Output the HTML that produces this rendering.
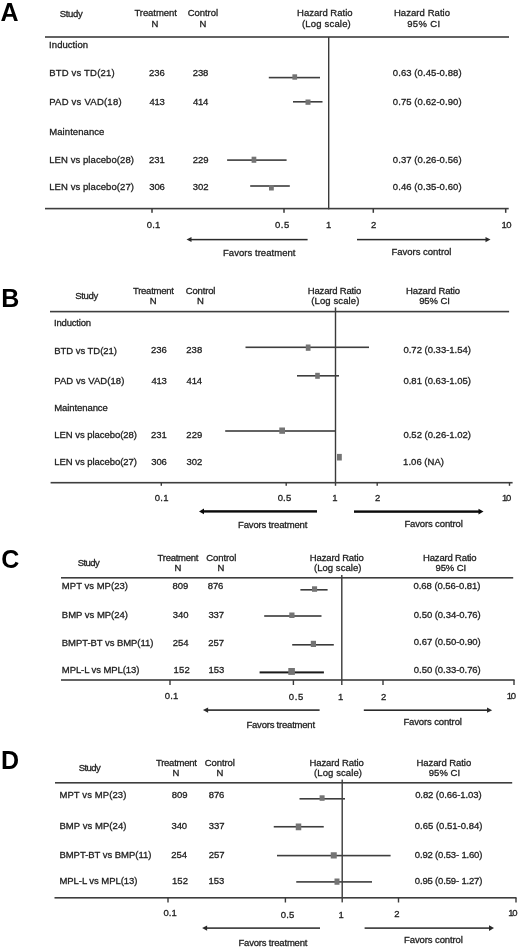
<!DOCTYPE html>
<html><head><meta charset="utf-8"><title>Forest plots</title>
<style>
html,body{margin:0;padding:0;background:#fff;}
body{width:520px;height:951px;overflow:hidden;}
svg{display:block;font-family:"Liberation Sans",sans-serif;filter:grayscale(1);}
</style></head><body>
<svg width="520" height="951" viewBox="0 0 520 951">
<rect x="0" y="0" width="520" height="951" fill="#fff"/>
<text x="0.58" y="20.50" font-size="25.00" font-weight="bold" fill="#000">A</text>
<text x="59.77" y="17.00" font-size="9.50" fill="#1e1e1e" stroke="#1e1e1e" stroke-width="0.30" textLength="23.05" lengthAdjust="spacing">Study</text>
<text x="134.39" y="16.00" font-size="9.50" fill="#1e1e1e" stroke="#1e1e1e" stroke-width="0.30" textLength="42.48" lengthAdjust="spacing">Treatment</text>
<text x="151.42" y="27.00" font-size="9.50" fill="#1e1e1e" stroke="#1e1e1e" stroke-width="0.30">N</text>
<text x="187.72" y="16.00" font-size="9.50" fill="#1e1e1e" stroke="#1e1e1e" stroke-width="0.30" textLength="30.32" lengthAdjust="spacing">Control</text>
<text x="199.42" y="27.00" font-size="9.50" fill="#1e1e1e" stroke="#1e1e1e" stroke-width="0.30">N</text>
<text x="297.02" y="16.00" font-size="9.50" fill="#1e1e1e" stroke="#1e1e1e" stroke-width="0.30" textLength="55.58" lengthAdjust="spacing">Hazard Ratio</text>
<text x="302.01" y="27.00" font-size="9.50" fill="#1e1e1e" stroke="#1e1e1e" stroke-width="0.30" textLength="48.78" lengthAdjust="spacing">(Log scale)</text>
<text x="393.92" y="16.00" font-size="9.50" fill="#1e1e1e" stroke="#1e1e1e" stroke-width="0.30" textLength="56.18" lengthAdjust="spacing">Hazard Ratio</text>
<text x="407.25" y="27.00" font-size="9.50" fill="#1e1e1e" stroke="#1e1e1e" stroke-width="0.30" textLength="32.82" lengthAdjust="spacing">95% CI</text>
<rect x="45.00" y="36.20" width="464.00" height="1.60" fill="#3e3e3e"/>
<rect x="328.00" y="37.00" width="1.40" height="172.30" fill="#3a3a3a"/>
<text x="49.12" y="48.00" font-size="9.50" fill="#1e1e1e" stroke="#1e1e1e" stroke-width="0.30" textLength="38.99" lengthAdjust="spacing">Induction</text>
<text x="49.22" y="135.00" font-size="9.50" fill="#1e1e1e" stroke="#1e1e1e" stroke-width="0.30" textLength="55.20" lengthAdjust="spacing">Maintenance</text>
<text x="49.22" y="76.00" font-size="9.50" fill="#1e1e1e" stroke="#1e1e1e" stroke-width="0.30" textLength="65.37" lengthAdjust="spacing">BTD vs TD(21)</text>
<text x="149.12" y="76.00" font-size="9.50" fill="#1e1e1e" stroke="#1e1e1e" stroke-width="0.30" textLength="15.70" lengthAdjust="spacing">236</text>
<text x="192.72" y="76.00" font-size="9.50" fill="#1e1e1e" stroke="#1e1e1e" stroke-width="0.30" textLength="15.69" lengthAdjust="spacing">238</text>
<text x="392.83" y="76.00" font-size="9.50" fill="#1e1e1e" stroke="#1e1e1e" stroke-width="0.30" textLength="68.76" lengthAdjust="spacing">0.63 (0.45-0.88)</text>
<rect x="268.80" y="76.80" width="51.20" height="1.60" fill="#3e3e3e"/>
<rect x="292.40" y="74.30" width="4.70" height="5.40" fill="#747474"/>
<text x="49.22" y="105.00" font-size="9.50" fill="#1e1e1e" stroke="#1e1e1e" stroke-width="0.30" textLength="72.37" lengthAdjust="spacing">PAD vs VAD(18)</text>
<text x="149.38" y="105.00" font-size="9.50" fill="#1e1e1e" stroke="#1e1e1e" stroke-width="0.30" textLength="15.44" lengthAdjust="spacing">413</text>
<text x="192.98" y="105.00" font-size="9.50" fill="#1e1e1e" stroke="#1e1e1e" stroke-width="0.30" textLength="15.30" lengthAdjust="spacing">414</text>
<text x="392.83" y="105.00" font-size="9.50" fill="#1e1e1e" stroke="#1e1e1e" stroke-width="0.30" textLength="68.76" lengthAdjust="spacing">0.75 (0.62-0.90)</text>
<rect x="293.00" y="101.00" width="29.50" height="1.60" fill="#3e3e3e"/>
<rect x="305.50" y="99.50" width="5.00" height="5.30" fill="#747474"/>
<text x="49.22" y="163.00" font-size="9.50" fill="#1e1e1e" stroke="#1e1e1e" stroke-width="0.30" textLength="84.77" lengthAdjust="spacing">LEN vs placebo(28)</text>
<text x="149.12" y="163.00" font-size="9.50" fill="#1e1e1e" stroke="#1e1e1e" stroke-width="0.30" textLength="15.74" lengthAdjust="spacing">231</text>
<text x="192.72" y="163.00" font-size="9.50" fill="#1e1e1e" stroke="#1e1e1e" stroke-width="0.30" textLength="15.73" lengthAdjust="spacing">229</text>
<text x="392.83" y="163.00" font-size="9.50" fill="#1e1e1e" stroke="#1e1e1e" stroke-width="0.30" textLength="68.76" lengthAdjust="spacing">0.37 (0.26-0.56)</text>
<rect x="227.10" y="159.30" width="59.50" height="1.60" fill="#3e3e3e"/>
<rect x="251.60" y="156.70" width="4.70" height="6.10" fill="#747474"/>
<text x="49.22" y="190.00" font-size="9.50" fill="#1e1e1e" stroke="#1e1e1e" stroke-width="0.30" textLength="84.77" lengthAdjust="spacing">LEN vs placebo(27)</text>
<text x="149.24" y="190.00" font-size="9.50" fill="#1e1e1e" stroke="#1e1e1e" stroke-width="0.30" textLength="15.58" lengthAdjust="spacing">306</text>
<text x="192.84" y="190.00" font-size="9.50" fill="#1e1e1e" stroke="#1e1e1e" stroke-width="0.30" textLength="15.64" lengthAdjust="spacing">302</text>
<text x="392.83" y="190.00" font-size="9.50" fill="#1e1e1e" stroke="#1e1e1e" stroke-width="0.30" textLength="68.76" lengthAdjust="spacing">0.46 (0.35-0.60)</text>
<rect x="250.20" y="185.20" width="39.60" height="1.60" fill="#3e3e3e"/>
<rect x="269.00" y="185.00" width="4.80" height="5.50" fill="#747474"/>
<rect x="45.00" y="207.80" width="463.70" height="1.60" fill="#3e3e3e"/>
<rect x="151.25" y="208.60" width="1.50" height="4.20" fill="#3a3a3a"/>
<rect x="283.25" y="208.60" width="1.50" height="4.20" fill="#3a3a3a"/>
<rect x="372.55" y="208.60" width="1.50" height="4.20" fill="#3a3a3a"/>
<rect x="504.95" y="208.60" width="1.50" height="4.20" fill="#3a3a3a"/>
<text x="146.83" y="228.00" font-size="9.50" fill="#1e1e1e" stroke="#1e1e1e" stroke-width="0.30" textLength="13.43" lengthAdjust="spacing">0.1</text>
<text x="275.03" y="228.00" font-size="9.50" fill="#1e1e1e" stroke="#1e1e1e" stroke-width="0.30" textLength="14.17" lengthAdjust="spacing">0.5</text>
<text x="326.08" y="228.00" font-size="9.50" fill="#1e1e1e" stroke="#1e1e1e" stroke-width="0.30">1</text>
<text x="371.12" y="228.00" font-size="9.50" fill="#1e1e1e" stroke="#1e1e1e" stroke-width="0.30">2</text>
<text x="501.48" y="228.00" font-size="9.50" fill="#1e1e1e" stroke="#1e1e1e" stroke-width="0.30" textLength="10.09" lengthAdjust="spacing">10</text>
<rect x="191.00" y="238.85" width="116.60" height="1.50" fill="#2a2a2a"/>
<polygon points="186.50,239.60 191.50,237.10 191.50,242.10" fill="#2a2a2a"/>
<rect x="357.00" y="238.85" width="129.00" height="1.50" fill="#2a2a2a"/>
<polygon points="490.50,239.60 485.50,237.00 485.50,242.20" fill="#2a2a2a"/>
<text x="223.02" y="256.00" font-size="9.50" fill="#1e1e1e" stroke="#1e1e1e" stroke-width="0.30" textLength="72.45" lengthAdjust="spacing">Favors treatment</text>
<text x="391.42" y="255.00" font-size="9.50" fill="#1e1e1e" stroke="#1e1e1e" stroke-width="0.30" textLength="60.01" lengthAdjust="spacing">Favors control</text>
<text x="1.13" y="306.80" font-size="25.00" font-weight="bold" fill="#000">B</text>
<text x="75.37" y="299.00" font-size="9.50" fill="#1e1e1e" stroke="#1e1e1e" stroke-width="0.30" textLength="22.85" lengthAdjust="spacing">Study</text>
<text x="132.99" y="294.00" font-size="9.50" fill="#1e1e1e" stroke="#1e1e1e" stroke-width="0.30" textLength="40.88" lengthAdjust="spacing">Treatment</text>
<text x="149.82" y="304.00" font-size="9.50" fill="#1e1e1e" stroke="#1e1e1e" stroke-width="0.30">N</text>
<text x="185.72" y="294.00" font-size="9.50" fill="#1e1e1e" stroke="#1e1e1e" stroke-width="0.30" textLength="29.72" lengthAdjust="spacing">Control</text>
<text x="197.02" y="304.00" font-size="9.50" fill="#1e1e1e" stroke="#1e1e1e" stroke-width="0.30">N</text>
<text x="307.82" y="294.00" font-size="9.50" fill="#1e1e1e" stroke="#1e1e1e" stroke-width="0.30" textLength="53.38" lengthAdjust="spacing">Hazard Ratio</text>
<text x="311.21" y="304.00" font-size="9.50" fill="#1e1e1e" stroke="#1e1e1e" stroke-width="0.30" textLength="48.18" lengthAdjust="spacing">(Log scale)</text>
<text x="406.02" y="294.00" font-size="9.50" fill="#1e1e1e" stroke="#1e1e1e" stroke-width="0.30" textLength="54.08" lengthAdjust="spacing">Hazard Ratio</text>
<text x="419.15" y="304.00" font-size="9.50" fill="#1e1e1e" stroke="#1e1e1e" stroke-width="0.30" textLength="30.72" lengthAdjust="spacing">95% CI</text>
<rect x="50.00" y="310.80" width="459.10" height="1.60" fill="#3e3e3e"/>
<rect x="334.80" y="307.40" width="1.40" height="178.40" fill="#3a3a3a"/>
<text x="54.12" y="326.00" font-size="9.50" fill="#1e1e1e" stroke="#1e1e1e" stroke-width="0.30" textLength="36.89" lengthAdjust="spacing">Induction</text>
<text x="54.22" y="411.00" font-size="9.50" fill="#1e1e1e" stroke="#1e1e1e" stroke-width="0.30" textLength="53.60" lengthAdjust="spacing">Maintenance</text>
<text x="54.22" y="354.00" font-size="9.50" fill="#1e1e1e" stroke="#1e1e1e" stroke-width="0.30" textLength="62.77" lengthAdjust="spacing">BTD vs TD(21)</text>
<text x="151.12" y="353.00" font-size="9.50" fill="#1e1e1e" stroke="#1e1e1e" stroke-width="0.30" textLength="15.70" lengthAdjust="spacing">236</text>
<text x="186.32" y="353.00" font-size="9.50" fill="#1e1e1e" stroke="#1e1e1e" stroke-width="0.30" textLength="15.89" lengthAdjust="spacing">238</text>
<text x="403.43" y="353.00" font-size="9.50" fill="#1e1e1e" stroke="#1e1e1e" stroke-width="0.30" textLength="67.56" lengthAdjust="spacing">0.72 (0.33-1.54)</text>
<rect x="245.50" y="346.50" width="123.50" height="1.60" fill="#3e3e3e"/>
<rect x="305.80" y="344.50" width="4.70" height="6.30" fill="#747474"/>
<text x="54.22" y="384.00" font-size="9.50" fill="#1e1e1e" stroke="#1e1e1e" stroke-width="0.30" textLength="70.17" lengthAdjust="spacing">PAD vs VAD(18)</text>
<text x="151.38" y="384.00" font-size="9.50" fill="#1e1e1e" stroke="#1e1e1e" stroke-width="0.30" textLength="15.44" lengthAdjust="spacing">413</text>
<text x="186.58" y="384.00" font-size="9.50" fill="#1e1e1e" stroke="#1e1e1e" stroke-width="0.30" textLength="15.50" lengthAdjust="spacing">414</text>
<text x="403.43" y="384.00" font-size="9.50" fill="#1e1e1e" stroke="#1e1e1e" stroke-width="0.30" textLength="67.56" lengthAdjust="spacing">0.81 (0.63-1.05)</text>
<rect x="297.00" y="375.00" width="42.00" height="1.60" fill="#3e3e3e"/>
<rect x="315.20" y="372.80" width="4.60" height="6.00" fill="#747474"/>
<text x="54.22" y="438.00" font-size="9.50" fill="#1e1e1e" stroke="#1e1e1e" stroke-width="0.30" textLength="82.77" lengthAdjust="spacing">LEN vs placebo(28)</text>
<text x="151.12" y="438.00" font-size="9.50" fill="#1e1e1e" stroke="#1e1e1e" stroke-width="0.30" textLength="15.74" lengthAdjust="spacing">231</text>
<text x="186.32" y="438.00" font-size="9.50" fill="#1e1e1e" stroke="#1e1e1e" stroke-width="0.30" textLength="15.93" lengthAdjust="spacing">229</text>
<text x="403.43" y="438.00" font-size="9.50" fill="#1e1e1e" stroke="#1e1e1e" stroke-width="0.30" textLength="67.56" lengthAdjust="spacing">0.52 (0.26-1.02)</text>
<rect x="225.20" y="430.20" width="110.00" height="1.60" fill="#3e3e3e"/>
<rect x="279.30" y="427.50" width="5.70" height="6.30" fill="#747474"/>
<text x="54.22" y="465.00" font-size="9.50" fill="#1e1e1e" stroke="#1e1e1e" stroke-width="0.30" textLength="82.77" lengthAdjust="spacing">LEN vs placebo(27)</text>
<text x="151.24" y="465.00" font-size="9.50" fill="#1e1e1e" stroke="#1e1e1e" stroke-width="0.30" textLength="15.58" lengthAdjust="spacing">306</text>
<text x="186.44" y="465.00" font-size="9.50" fill="#1e1e1e" stroke="#1e1e1e" stroke-width="0.30" textLength="15.84" lengthAdjust="spacing">302</text>
<text x="403.08" y="465.00" font-size="9.50" fill="#1e1e1e" stroke="#1e1e1e" stroke-width="0.30" textLength="40.91" lengthAdjust="spacing">1.06 (NA)</text>
<rect x="337.00" y="453.90" width="4.80" height="6.60" fill="#747474"/>
<rect x="50.60" y="481.90" width="462.00" height="1.60" fill="#3e3e3e"/>
<rect x="160.60" y="482.70" width="1.40" height="3.10" fill="#3a3a3a"/>
<rect x="285.50" y="482.70" width="1.40" height="3.10" fill="#3a3a3a"/>
<rect x="376.50" y="482.70" width="1.40" height="3.10" fill="#3a3a3a"/>
<rect x="508.80" y="482.70" width="1.40" height="3.10" fill="#3a3a3a"/>
<text x="154.83" y="501.00" font-size="9.50" fill="#1e1e1e" stroke="#1e1e1e" stroke-width="0.30" textLength="13.63" lengthAdjust="spacing">0.1</text>
<text x="277.63" y="501.00" font-size="9.50" fill="#1e1e1e" stroke="#1e1e1e" stroke-width="0.30" textLength="13.57" lengthAdjust="spacing">0.5</text>
<text x="332.18" y="501.00" font-size="9.50" fill="#1e1e1e" stroke="#1e1e1e" stroke-width="0.30">1</text>
<text x="375.12" y="501.00" font-size="9.50" fill="#1e1e1e" stroke="#1e1e1e" stroke-width="0.30">2</text>
<text x="501.98" y="501.00" font-size="9.50" fill="#1e1e1e" stroke="#1e1e1e" stroke-width="0.30" textLength="9.39" lengthAdjust="spacing">10</text>
<rect x="203.50" y="510.20" width="113.50" height="2.40" fill="#0a0a0a"/>
<polygon points="199.00,511.40 204.00,508.50 204.00,514.30" fill="#0a0a0a"/>
<rect x="354.00" y="510.40" width="125.00" height="2.40" fill="#0a0a0a"/>
<polygon points="483.50,511.60 478.50,508.70 478.50,514.50" fill="#0a0a0a"/>
<text x="238.12" y="528.00" font-size="9.50" fill="#1e1e1e" stroke="#1e1e1e" stroke-width="0.30" textLength="69.25" lengthAdjust="spacing">Favors treatment</text>
<text x="404.42" y="527.00" font-size="9.50" fill="#1e1e1e" stroke="#1e1e1e" stroke-width="0.30" textLength="58.41" lengthAdjust="spacing">Favors control</text>
<text x="1.17" y="567.60" font-size="25.00" font-weight="bold" fill="#000">C</text>
<text x="77.77" y="566.00" font-size="9.50" fill="#1e1e1e" stroke="#1e1e1e" stroke-width="0.30" textLength="22.05" lengthAdjust="spacing">Study</text>
<text x="157.59" y="561.00" font-size="9.50" fill="#1e1e1e" stroke="#1e1e1e" stroke-width="0.30" textLength="40.88" lengthAdjust="spacing">Treatment</text>
<text x="174.42" y="571.00" font-size="9.50" fill="#1e1e1e" stroke="#1e1e1e" stroke-width="0.30">N</text>
<text x="206.32" y="561.00" font-size="9.50" fill="#1e1e1e" stroke="#1e1e1e" stroke-width="0.30" textLength="30.12" lengthAdjust="spacing">Control</text>
<text x="217.42" y="571.00" font-size="9.50" fill="#1e1e1e" stroke="#1e1e1e" stroke-width="0.30">N</text>
<text x="309.82" y="561.00" font-size="9.50" fill="#1e1e1e" stroke="#1e1e1e" stroke-width="0.30" textLength="53.98" lengthAdjust="spacing">Hazard Ratio</text>
<text x="314.01" y="571.00" font-size="9.50" fill="#1e1e1e" stroke="#1e1e1e" stroke-width="0.30" textLength="47.38" lengthAdjust="spacing">(Log scale)</text>
<text x="423.02" y="561.00" font-size="9.50" fill="#1e1e1e" stroke="#1e1e1e" stroke-width="0.30" textLength="53.58" lengthAdjust="spacing">Hazard Ratio</text>
<text x="435.45" y="571.00" font-size="9.50" fill="#1e1e1e" stroke="#1e1e1e" stroke-width="0.30" textLength="30.72" lengthAdjust="spacing">95% CI</text>
<rect x="61.00" y="577.00" width="452.20" height="1.60" fill="#3e3e3e"/>
<rect x="341.10" y="575.00" width="1.40" height="110.00" fill="#3a3a3a"/>
<text x="61.82" y="589.00" font-size="9.50" fill="#1e1e1e" stroke="#1e1e1e" stroke-width="0.30" textLength="66.17" lengthAdjust="spacing">MPT vs MP(23)</text>
<text x="172.39" y="589.00" font-size="9.50" fill="#1e1e1e" stroke="#1e1e1e" stroke-width="0.30" textLength="15.86" lengthAdjust="spacing">809</text>
<text x="207.79" y="589.00" font-size="9.50" fill="#1e1e1e" stroke="#1e1e1e" stroke-width="0.30" textLength="15.63" lengthAdjust="spacing">876</text>
<text x="413.53" y="589.00" font-size="9.50" fill="#1e1e1e" stroke="#1e1e1e" stroke-width="0.30" textLength="66.86" lengthAdjust="spacing">0.68 (0.56-0.81)</text>
<rect x="300.40" y="589.00" width="27.20" height="1.60" fill="#3a3a3a"/>
<rect x="312.00" y="586.30" width="5.10" height="5.50" fill="#747474"/>
<text x="61.82" y="618.00" font-size="9.50" fill="#1e1e1e" stroke="#1e1e1e" stroke-width="0.30" textLength="66.17" lengthAdjust="spacing">BMP vs MP(24)</text>
<text x="172.84" y="618.00" font-size="9.50" fill="#1e1e1e" stroke="#1e1e1e" stroke-width="0.30" textLength="15.73" lengthAdjust="spacing">340</text>
<text x="208.44" y="618.00" font-size="9.50" fill="#1e1e1e" stroke="#1e1e1e" stroke-width="0.30" textLength="15.64" lengthAdjust="spacing">337</text>
<text x="413.83" y="618.00" font-size="9.50" fill="#1e1e1e" stroke="#1e1e1e" stroke-width="0.30" textLength="66.96" lengthAdjust="spacing">0.50 (0.34-0.76)</text>
<rect x="264.20" y="615.20" width="57.30" height="1.60" fill="#3a3a3a"/>
<rect x="289.30" y="612.50" width="5.20" height="5.50" fill="#747474"/>
<text x="61.82" y="646.00" font-size="9.50" fill="#1e1e1e" stroke="#1e1e1e" stroke-width="0.30" textLength="91.57" lengthAdjust="spacing">BMPT-BT vs BMP(11)</text>
<text x="172.72" y="646.00" font-size="9.50" fill="#1e1e1e" stroke="#1e1e1e" stroke-width="0.30" textLength="15.76" lengthAdjust="spacing">254</text>
<text x="208.32" y="646.00" font-size="9.50" fill="#1e1e1e" stroke="#1e1e1e" stroke-width="0.30" textLength="15.76" lengthAdjust="spacing">257</text>
<text x="413.83" y="645.00" font-size="9.50" fill="#1e1e1e" stroke="#1e1e1e" stroke-width="0.30" textLength="66.96" lengthAdjust="spacing">0.67 (0.50-0.90)</text>
<rect x="292.20" y="644.00" width="41.60" height="1.60" fill="#3a3a3a"/>
<rect x="310.80" y="640.80" width="5.20" height="6.20" fill="#747474"/>
<text x="61.82" y="673.00" font-size="9.50" fill="#1e1e1e" stroke="#1e1e1e" stroke-width="0.30" textLength="77.57" lengthAdjust="spacing">MPL-L vs MPL(13)</text>
<text x="173.48" y="673.00" font-size="9.50" fill="#1e1e1e" stroke="#1e1e1e" stroke-width="0.30" textLength="16.20" lengthAdjust="spacing">152</text>
<text x="208.48" y="673.00" font-size="9.50" fill="#1e1e1e" stroke="#1e1e1e" stroke-width="0.30" textLength="15.94" lengthAdjust="spacing">153</text>
<text x="413.83" y="673.00" font-size="9.50" fill="#1e1e1e" stroke="#1e1e1e" stroke-width="0.30" textLength="66.96" lengthAdjust="spacing">0.50 (0.33-0.76)</text>
<rect x="259.60" y="671.40" width="64.30" height="2.00" fill="#1a1a1a"/>
<rect x="288.30" y="668.00" width="6.60" height="6.90" fill="#747474"/>
<rect x="61.00" y="679.20" width="453.60" height="1.60" fill="#3e3e3e"/>
<rect x="169.30" y="680.00" width="1.40" height="5.00" fill="#3a3a3a"/>
<rect x="292.70" y="680.00" width="1.40" height="5.00" fill="#3a3a3a"/>
<rect x="382.30" y="680.00" width="1.40" height="5.00" fill="#3a3a3a"/>
<rect x="513.30" y="680.00" width="1.40" height="5.00" fill="#3a3a3a"/>
<text x="164.83" y="699.00" font-size="9.50" fill="#1e1e1e" stroke="#1e1e1e" stroke-width="0.30" textLength="13.43" lengthAdjust="spacing">0.1</text>
<text x="288.83" y="700.00" font-size="9.50" fill="#1e1e1e" stroke="#1e1e1e" stroke-width="0.30" textLength="14.37" lengthAdjust="spacing">0.5</text>
<text x="337.88" y="700.00" font-size="9.50" fill="#1e1e1e" stroke="#1e1e1e" stroke-width="0.30">1</text>
<text x="381.12" y="700.00" font-size="9.50" fill="#1e1e1e" stroke="#1e1e1e" stroke-width="0.30">2</text>
<text x="506.68" y="699.00" font-size="9.50" fill="#1e1e1e" stroke="#1e1e1e" stroke-width="0.30" textLength="9.29" lengthAdjust="spacing">10</text>
<rect x="207.60" y="709.30" width="112.00" height="1.60" fill="#2a2a2a"/>
<polygon points="202.90,710.10 208.10,707.50 208.10,712.70" fill="#2a2a2a"/>
<rect x="363.80" y="709.40" width="123.70" height="1.60" fill="#2a2a2a"/>
<polygon points="492.20,710.20 487.00,707.60 487.00,712.80" fill="#2a2a2a"/>
<text x="246.42" y="728.00" font-size="9.50" fill="#1e1e1e" stroke="#1e1e1e" stroke-width="0.30" textLength="68.65" lengthAdjust="spacing">Favors treatment</text>
<text x="403.42" y="725.00" font-size="9.50" fill="#1e1e1e" stroke="#1e1e1e" stroke-width="0.30" textLength="58.51" lengthAdjust="spacing">Favors control</text>
<text x="0.93" y="769.00" font-size="25.00" font-weight="bold" fill="#000">D</text>
<text x="78.77" y="771.00" font-size="9.50" fill="#1e1e1e" stroke="#1e1e1e" stroke-width="0.30" textLength="22.05" lengthAdjust="spacing">Study</text>
<text x="155.99" y="766.00" font-size="9.50" fill="#1e1e1e" stroke="#1e1e1e" stroke-width="0.30" textLength="40.88" lengthAdjust="spacing">Treatment</text>
<text x="172.42" y="776.00" font-size="9.50" fill="#1e1e1e" stroke="#1e1e1e" stroke-width="0.30">N</text>
<text x="204.72" y="766.00" font-size="9.50" fill="#1e1e1e" stroke="#1e1e1e" stroke-width="0.30" textLength="30.12" lengthAdjust="spacing">Control</text>
<text x="216.42" y="776.00" font-size="9.50" fill="#1e1e1e" stroke="#1e1e1e" stroke-width="0.30">N</text>
<text x="309.42" y="766.00" font-size="9.50" fill="#1e1e1e" stroke="#1e1e1e" stroke-width="0.30" textLength="54.38" lengthAdjust="spacing">Hazard Ratio</text>
<text x="314.01" y="776.00" font-size="9.50" fill="#1e1e1e" stroke="#1e1e1e" stroke-width="0.30" textLength="47.98" lengthAdjust="spacing">(Log scale)</text>
<text x="416.42" y="766.00" font-size="9.50" fill="#1e1e1e" stroke="#1e1e1e" stroke-width="0.30" textLength="54.78" lengthAdjust="spacing">Hazard Ratio</text>
<text x="428.75" y="776.00" font-size="9.50" fill="#1e1e1e" stroke="#1e1e1e" stroke-width="0.30" textLength="31.32" lengthAdjust="spacing">95% CI</text>
<rect x="55.00" y="782.00" width="457.20" height="1.60" fill="#3e3e3e"/>
<rect x="341.50" y="779.60" width="1.40" height="122.80" fill="#3a3a3a"/>
<text x="59.42" y="798.00" font-size="9.50" fill="#1e1e1e" stroke="#1e1e1e" stroke-width="0.30" textLength="66.97" lengthAdjust="spacing">MPT vs MP(23)</text>
<text x="171.79" y="798.00" font-size="9.50" fill="#1e1e1e" stroke="#1e1e1e" stroke-width="0.30" textLength="15.86" lengthAdjust="spacing">809</text>
<text x="208.79" y="798.00" font-size="9.50" fill="#1e1e1e" stroke="#1e1e1e" stroke-width="0.30" textLength="15.63" lengthAdjust="spacing">876</text>
<text x="415.13" y="798.00" font-size="9.50" fill="#1e1e1e" stroke="#1e1e1e" stroke-width="0.30" textLength="66.46" lengthAdjust="spacing">0.82 (0.66-1.03)</text>
<rect x="299.50" y="798.00" width="45.50" height="1.60" fill="#3e3e3e"/>
<rect x="319.60" y="795.30" width="5.00" height="5.50" fill="#747474"/>
<text x="59.42" y="829.00" font-size="9.50" fill="#1e1e1e" stroke="#1e1e1e" stroke-width="0.30" textLength="66.97" lengthAdjust="spacing">BMP vs MP(24)</text>
<text x="171.44" y="829.00" font-size="9.50" fill="#1e1e1e" stroke="#1e1e1e" stroke-width="0.30" textLength="15.73" lengthAdjust="spacing">340</text>
<text x="208.84" y="829.00" font-size="9.50" fill="#1e1e1e" stroke="#1e1e1e" stroke-width="0.30" textLength="15.64" lengthAdjust="spacing">337</text>
<text x="414.83" y="829.00" font-size="9.50" fill="#1e1e1e" stroke="#1e1e1e" stroke-width="0.30" textLength="67.56" lengthAdjust="spacing">0.65 (0.51-0.84)</text>
<rect x="273.75" y="825.95" width="50.00" height="1.60" fill="#3e3e3e"/>
<rect x="295.75" y="823.50" width="5.50" height="6.75" fill="#747474"/>
<text x="59.42" y="858.00" font-size="9.50" fill="#1e1e1e" stroke="#1e1e1e" stroke-width="0.30" textLength="91.97" lengthAdjust="spacing">BMPT-BT vs BMP(11)</text>
<text x="171.32" y="858.00" font-size="9.50" fill="#1e1e1e" stroke="#1e1e1e" stroke-width="0.30" textLength="15.76" lengthAdjust="spacing">254</text>
<text x="208.72" y="858.00" font-size="9.50" fill="#1e1e1e" stroke="#1e1e1e" stroke-width="0.30" textLength="15.76" lengthAdjust="spacing">257</text>
<text x="414.83" y="858.00" font-size="9.50" fill="#1e1e1e" stroke="#1e1e1e" stroke-width="0.30" textLength="67.56" lengthAdjust="spacing">0.92 (0.53- 1.60)</text>
<rect x="277.00" y="854.80" width="113.60" height="1.60" fill="#3e3e3e"/>
<rect x="330.75" y="852.25" width="6.00" height="6.25" fill="#747474"/>
<text x="59.42" y="884.00" font-size="9.50" fill="#1e1e1e" stroke="#1e1e1e" stroke-width="0.30" textLength="77.97" lengthAdjust="spacing">MPL-L vs MPL(13)</text>
<text x="171.88" y="884.00" font-size="9.50" fill="#1e1e1e" stroke="#1e1e1e" stroke-width="0.30" textLength="16.20" lengthAdjust="spacing">152</text>
<text x="208.48" y="884.00" font-size="9.50" fill="#1e1e1e" stroke="#1e1e1e" stroke-width="0.30" textLength="15.94" lengthAdjust="spacing">153</text>
<text x="414.83" y="884.00" font-size="9.50" fill="#1e1e1e" stroke="#1e1e1e" stroke-width="0.30" textLength="67.56" lengthAdjust="spacing">0.95 (0.59- 1.27)</text>
<rect x="296.25" y="881.10" width="75.75" height="1.60" fill="#3e3e3e"/>
<rect x="334.50" y="878.50" width="5.00" height="6.25" fill="#747474"/>
<rect x="54.50" y="897.00" width="462.00" height="1.60" fill="#3e3e3e"/>
<rect x="167.30" y="897.80" width="1.40" height="4.70" fill="#3a3a3a"/>
<rect x="284.70" y="897.80" width="1.40" height="4.70" fill="#3a3a3a"/>
<rect x="397.80" y="897.80" width="1.40" height="4.70" fill="#3a3a3a"/>
<rect x="515.30" y="897.80" width="1.40" height="4.70" fill="#3a3a3a"/>
<text x="163.43" y="916.00" font-size="9.50" fill="#1e1e1e" stroke="#1e1e1e" stroke-width="0.30" textLength="13.43" lengthAdjust="spacing">0.1</text>
<text x="280.83" y="918.00" font-size="9.50" fill="#1e1e1e" stroke="#1e1e1e" stroke-width="0.30" textLength="13.37" lengthAdjust="spacing">0.5</text>
<text x="338.48" y="918.00" font-size="9.50" fill="#1e1e1e" stroke="#1e1e1e" stroke-width="0.30">1</text>
<text x="394.22" y="917.00" font-size="9.50" fill="#1e1e1e" stroke="#1e1e1e" stroke-width="0.30">2</text>
<text x="508.28" y="916.00" font-size="9.50" fill="#1e1e1e" stroke="#1e1e1e" stroke-width="0.30" textLength="9.39" lengthAdjust="spacing">10</text>
<rect x="206.60" y="927.35" width="113.40" height="1.50" fill="#2a2a2a"/>
<polygon points="202.10,928.10 207.10,925.50 207.10,930.70" fill="#2a2a2a"/>
<rect x="364.60" y="927.35" width="124.90" height="1.50" fill="#2a2a2a"/>
<polygon points="494.00,928.10 489.00,925.30 489.00,930.90" fill="#2a2a2a"/>
<text x="238.42" y="946.00" font-size="9.50" fill="#1e1e1e" stroke="#1e1e1e" stroke-width="0.30" textLength="69.05" lengthAdjust="spacing">Favors treatment</text>
<text x="404.02" y="943.00" font-size="9.50" fill="#1e1e1e" stroke="#1e1e1e" stroke-width="0.30" textLength="58.91" lengthAdjust="spacing">Favors control</text>
</svg>
</body></html>
